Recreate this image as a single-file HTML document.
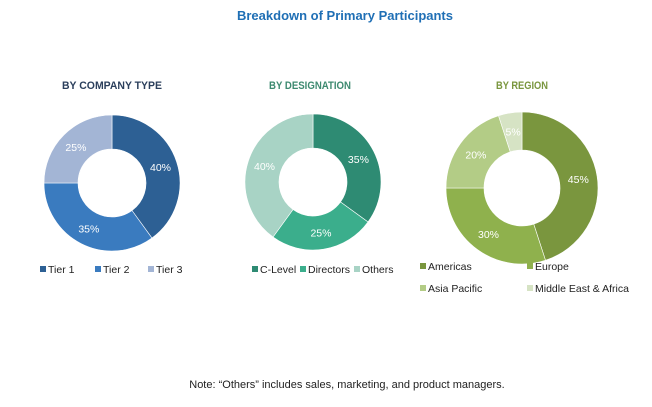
<!DOCTYPE html>
<html><head><meta charset="utf-8"><style>
body{margin:0;background:#fff}
svg{display:block;font-family:"Liberation Sans",sans-serif}
</style></head><body>
<svg width="652" height="407" viewBox="0 0 652 407">
<text x="345" y="20" text-anchor="middle" font-size="13" font-weight="bold" fill="#1f6fb5">Breakdown of Primary Participants</text>
<g id="charts"></g>
<text x="347" y="388" text-anchor="middle" font-size="11" fill="#222">Note: “Others” includes sales, marketing, and product managers.</text>
</svg>
<script>
const companyLabels=["Tier 1","Tier 2","Tier 3"];
const companyValues=[40,35,25];
const designationLabels=["C-Level","Directors","Others"];
const designationValues=[35,25,40];
const regionLabels=["Americas","Europe","Asia Pacific","Middle East & Africa"];
const regionValues=[45,30,20,5];

const NS="http://www.w3.org/2000/svg";
const root=document.getElementById('charts');
function mk(tag,attrs,parent){const e=document.createElementNS(NS,tag);for(const k in attrs)e.setAttribute(k,attrs[k]);(parent||root).appendChild(e);return e;}
const charts=[
 {name:'company-type',title:'BY COMPANY TYPE',tc:'#2b3f5c',tx:112,tw:100,cx:112,cy:183,r:68,ri:34,labels:companyLabels,values:companyValues,colors:['#2d6094','#3a7bbf','#a3b5d5'],
  leg:[[40,273],[95,273],[148,273]]},
 {name:'designation',title:'BY DESIGNATION',tc:'#3d8a70',tx:310,tw:82,cx:313,cy:182,r:68,ri:34,labels:designationLabels,values:designationValues,colors:['#2e8b73','#3bae8c','#a8d3c5'],
  leg:[[252,273],[300,273],[354,273]]},
 {name:'region',title:'BY REGION',tc:'#7a963e',tx:522,tw:52,cx:522,cy:188,r:76,ri:38,labels:regionLabels,values:regionValues,colors:['#7a963e','#8fb14d','#b3cc86','#d6e3c4'],
  leg:[[420,270],[527,270],[420,292],[527,292]]}
];
charts.forEach(c=>{
 const g=mk('g',{});
 
 
 const t=mk('text',{x:c.tx,y:89,'text-anchor':'middle','font-size':11,'font-weight':'bold',fill:c.tc,textLength:c.tw,lengthAdjust:'spacingAndGlyphs'},g);
 t.textContent=c.title;
 
 
 const total=c.values.reduce((a,b)=>a+b,0);
 let a0=0;
 c.values.forEach((v,i)=>{
  const a1=a0+v/total*2*Math.PI;
  const p=(a,r)=>[c.cx+r*Math.sin(a),c.cy-r*Math.cos(a)];
  const [x0,y0]=p(a0,c.r),[x1,y1]=p(a1,c.r),[x2,y2]=p(a1,c.ri),[x3,y3]=p(a0,c.ri);
  const lg=(a1-a0)>Math.PI?1:0;
  const s=mk('path',{d:`M${x0},${y0}A${c.r},${c.r} 0 ${lg} 1 ${x1},${y1}L${x2},${y2}A${c.ri},${c.ri} 0 ${lg} 0 ${x3},${y3}Z`,fill:c.colors[i],stroke:'#fff','stroke-width':0.6},g);
  
  
  const am=(a0+a1)/2,[lx,ly]=p(am,(c.r+c.ri)/2);
  const l=mk('text',{x:lx,y:ly+4,'text-anchor':'middle','font-size':10.5,fill:'#fff'},g);
  l.textContent=v+'%';
  
  
  a0=a1;
  const [gx,gy]=c.leg[i];
  const sw=mk('rect',{x:gx,y:gy-7,width:6,height:6,fill:c.colors[i]},g);
  
  
  const lt=mk('text',{x:gx+8,y:gy,'font-size':10.5,fill:'#222'},g);
  lt.textContent=c.labels[i];
  
  
 });
});
</script>
</body></html>
